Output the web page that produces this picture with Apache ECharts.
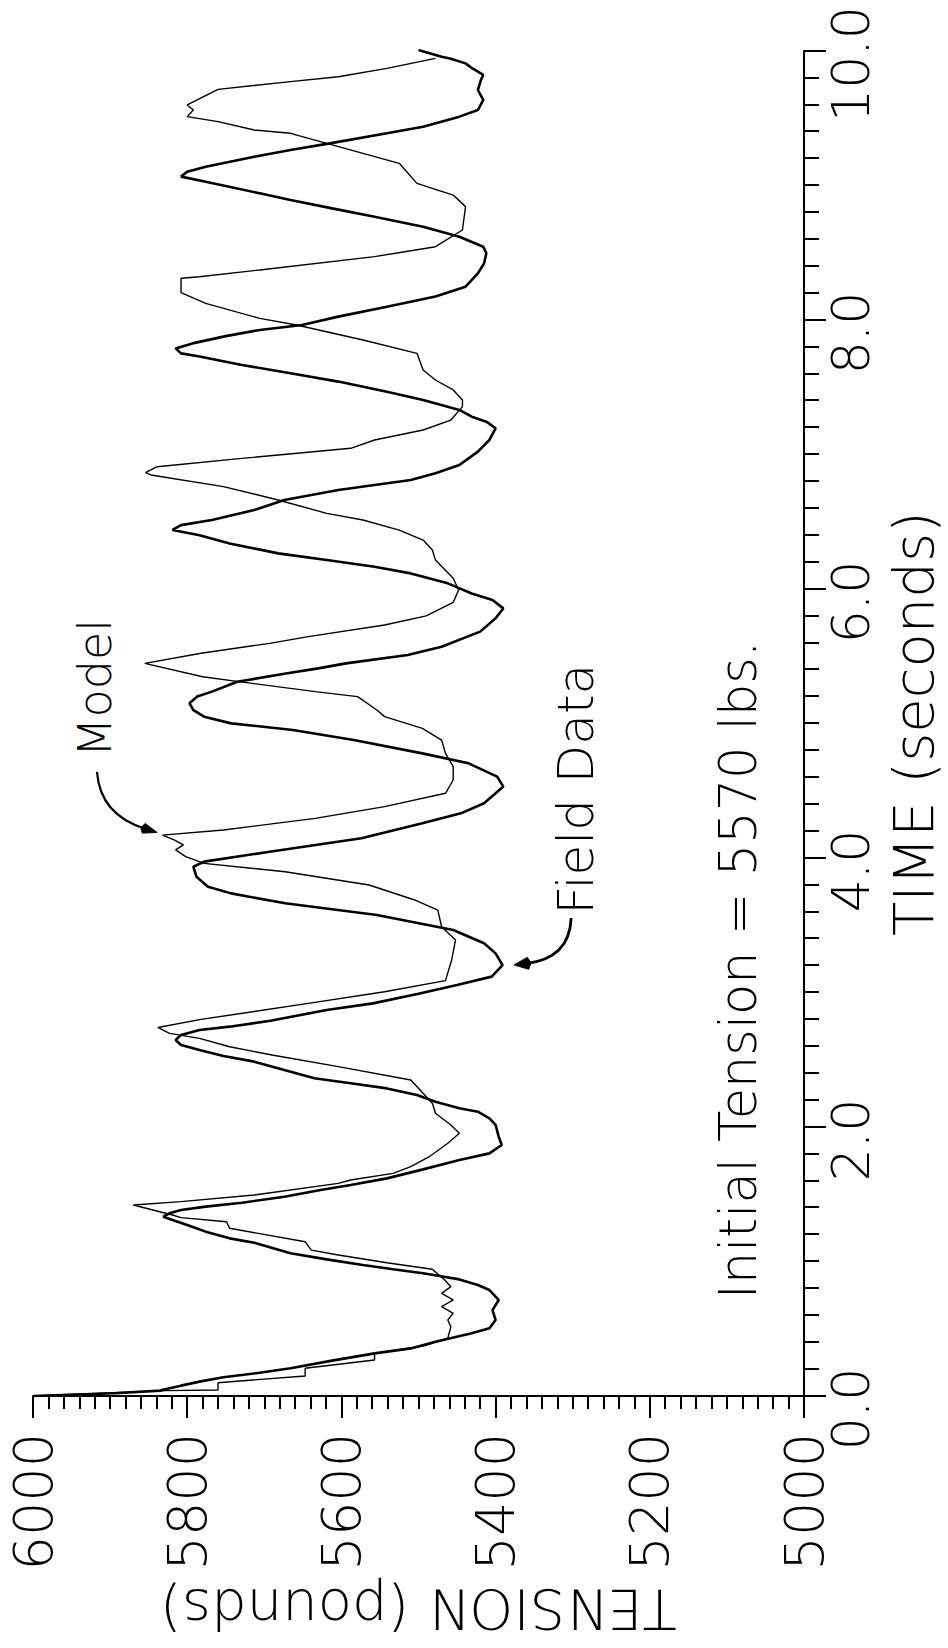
<!DOCTYPE html>
<html><head><meta charset="utf-8">
<script src="https://cdn.jsdelivr.net/npm/echarts@6/dist/echarts.min.js"></script>
<style>
html,body{margin:0;padding:0;background:#fff;width:948px;height:1648px;overflow:hidden;}
#chart{position:absolute;left:0;top:0;width:1648px;height:948px;transform-origin:0 0;transform:translate(0px,1648px) rotate(-90deg);background:#fff;}
</style></head><body><div id="chart"></div>
<script>
// ---- data (time in seconds, tension in pounds) ----
const fieldTime = [0.00,0.02,0.04,0.057,0.077,0.107,0.139,0.173,0.206,0.263,
0.317,0.354,0.404,0.466,0.503,0.565,0.639,0.714,0.788,0.825,
0.867,0.887,0.912,0.942,0.974,1.016,1.061,1.140,1.172,1.222,
1.271,1.309,1.333,1.358,1.383,1.408,1.437,1.482,1.532,1.569,
1.618,1.685,1.755,1.804,1.866,1.928,2.015,2.064,2.114,2.139,
2.188,2.238,2.287,2.325,2.362,2.424,2.486,2.528,2.573,2.610,
2.647,2.684,2.721,2.746,2.790,2.870,2.919,2.990,3.056,3.118,
3.204,3.291,3.366,3.465,3.576,3.663,3.737,3.787,3.861,3.935,
3.973,4.047,4.147,4.258,4.332,4.407,4.481,4.531,4.605,4.704,
4.778,4.877,4.952,5.001,5.051,5.100,5.150,5.200,5.237,5.311,
5.373,5.410,5.447,5.509,5.571,5.683,5.782,5.856,5.918,5.967,
6.042,6.116,6.166,6.215,6.265,6.339,6.400,6.439,6.475,6.513,
6.587,6.662,6.736,6.773,6.810,6.860,6.922,7.021,7.108,7.195,
7.244,7.281,7.331,7.405,7.467,7.542,7.604,7.666,7.728,7.752,
7.789,7.830,7.880,7.926,7.963,8.025,8.099,8.174,8.248,8.347,
8.420,8.496,8.545,8.619,8.694,8.768,8.830,8.892,8.942,9.028,
9.066,9.103,9.140,9.214,9.264,9.313,9.388,9.437,9.512,9.561,
9.636,9.710,9.785,9.822,9.870,9.908,9.943,9.958,10.007];
const fieldTension = [6000,5894,5835,5823,5808,5784,5753,5706,5666,5612,
5557,5510,5478,5431,5408,5400,5404,5396,5408,5423,
5447,5467,5494,5533,5572,5619,5666,5713,5745,5776,
5800,5819,5831,5823,5808,5776,5729,5674,5627,5588,
5541,5494,5447,5408,5392,5396,5400,5408,5423,5447,
5478,5502,5541,5588,5635,5674,5713,5753,5784,5808,
5815,5808,5784,5745,5692,5619,5559,5500,5450,5405,
5391,5400,5415,5455,5554,5673,5743,5773,5788,5792,
5778,5693,5574,5495,5445,5415,5400,5390,5398,5435,
5495,5584,5663,5743,5778,5792,5797,5787,5768,5735,
5670,5630,5594,5514,5470,5420,5400,5390,5404,5431,
5462,5510,5557,5619,5682,5745,5784,5819,5808,5768,
5713,5674,5604,5557,5510,5478,5447,5423,5408,5400,
5412,5431,5447,5494,5541,5604,5666,5729,5784,5808,
5815,5790,5750,5706,5651,5604,5541,5478,5439,5423,
5415,5412,5416,5447,5494,5557,5612,5666,5706,5776,
5808,5800,5776,5713,5666,5615,5541,5494,5447,5423,
5416,5423,5419,5416,5430,5439,5458,5470,5500];

const modelTime = [0.00,0.04,0.045,0.099,0.149,0.206,0.268,0.317,0.372,0.429,
0.515,0.565,0.615,0.664,0.714,0.763,0.813,0.862,0.942,0.991,
1.048,1.085,1.147,1.247,1.296,1.326,1.346,1.420,1.445,1.494,
1.581,1.606,1.655,1.705,1.779,1.879,1.953,2.015,2.102,2.176,
2.349,2.449,2.535,2.597,2.659,2.696,2.740,2.800,2.919,3.006,
3.088,3.242,3.390,3.489,3.613,3.688,3.799,3.898,3.960,4.010,
4.060,4.097,4.134,4.170,4.208,4.295,4.382,4.481,4.580,4.679,
4.778,4.877,4.964,5.051,5.100,5.200,5.237,5.311,5.348,5.447,
5.522,5.596,5.646,5.732,5.800,5.900,5.993,6.080,6.215,6.290,
6.364,6.438,6.513,6.562,6.662,6.761,6.848,6.865,6.909,6.971,
7.046,7.108,7.182,7.256,7.356,7.405,7.480,7.554,7.628,7.752,
7.851,7.963,8.012,8.124,8.203,8.310,8.322,8.372,8.471,8.545,
8.669,8.843,8.929,9.016,9.165,9.239,9.313,9.388,9.413,9.475,
9.512,9.561,9.599,9.715,9.772,9.809,9.871,9.945];
const modelTension = [6000,5831,5760,5760,5647,5647,5557,5557,5494,5462,
5458,5462,5455,5470,5455,5470,5458,5466,5482,5541,
5604,5639,5647,5745,5749,5808,5819,5870,5808,5713,
5604,5588,5533,5510,5486,5462,5447,5458,5478,5482,
5510,5604,5690,5745,5784,5823,5838,5782,5643,5544,
5465,5457,5452,5470,5475,5505,5564,5673,5778,5802,
5815,5805,5817,5832,5753,5634,5544,5465,5455,5455,
5465,5470,5495,5544,5554,5579,5634,5733,5780,5855,
5782,5693,5643,5544,5490,5455,5448,5455,5478,5482,
5494,5525,5572,5619,5682,5753,5847,5854,5839,5729,
5588,5557,5494,5458,5443,5443,5455,5478,5494,5502,
5572,5658,5706,5776,5808,5808,5784,5706,5557,5478,
5443,5439,5455,5502,5525,5572,5619,5666,5713,5760,
5800,5792,5800,5760,5666,5604,5541,5478];

const timeTickLabels = ['0.0','2.0','4.0','6.0','8.0','10.0'];
const tensionTickLabels = ['5000','5200','5400','5600','5800','6000'];

// annotation anchors in data units [time, tension]
const modelLabelAt = [4.75, 5919];
const fieldLabelAt = [3.58, 5296];
const noteLabelAt = [0.72, 5085];
const modelArrow = {start:[4.64,5917], ctrl:[4.32,5913], end:[4.19,5839]};
const fieldArrow = {start:[3.554,5302], ctrl:[3.253,5304], end:[3.205,5376]};

const zip = (a, b) => a.map((v, i) => [v, b[i]]);

const chart = echarts.init(document.getElementById('chart'), null, {renderer:'svg', width:1648, height:948});
const SANS = '"DejaVu Sans", sans-serif';
const W = 200;

chart.setOption({
  animation: false,
  backgroundColor: '#fff',
  grid: {left: 252, right: 51, top: 33, bottom: 144, containLabel: false},
  xAxis: {
    type: 'value', min: 0, max: 10, interval: 2,
    name: 'TIME (seconds)', nameLocation: 'middle', nameGap: 81,
    nameTextStyle: {fontFamily: SANS, fontWeight: W, fontSize: 56, color: '#000'},
    axisLine: {show: true, onZero: false, lineStyle: {color: '#000', width: 2}},
    axisTick: {show: true, length: 22, lineStyle: {color: '#000', width: 2}},
    minorTick: {show: true, splitNumber: 10, length: 15, lineStyle: {color: '#000', width: 2}},
    splitLine: {show: false}, minorSplitLine: {show: false},
    axisLabel: {margin: 21, fontFamily: SANS, fontWeight: W, fontSize: 52, color: '#000', padding: [0, 26, 0, 0],
      formatter: v => timeTickLabels[Math.round(v / 2)]}
  },
  yAxis: {
    type: 'value', min: 5000, max: 6000, interval: 200,
    name: 'TENSION (pounds)', nameLocation: 'middle', nameRotate: 90, nameGap: 183,
    nameTextStyle: {fontFamily: SANS, fontWeight: W, fontSize: 56, color: '#000'},
    axisLine: {show: true, onZero: false, lineStyle: {color: '#000', width: 2}},
    axisTick: {show: true, length: 22, lineStyle: {color: '#000', width: 2}},
    minorTick: {show: true, splitNumber: 10, length: 13, lineStyle: {color: '#000', width: 2}},
    splitLine: {show: false}, minorSplitLine: {show: false},
    axisLabel: {margin: 37, fontFamily: SANS, fontWeight: W, fontSize: 54, color: '#000',
      formatter: v => tensionTickLabels[Math.round((v - 5000) / 200)]}
  },
  series: [
    {name: 'Model', type: 'line', showSymbol: false, symbol: 'none',
     data: zip(modelTime, modelTension), lineStyle: {color: '#000', width: 1.4}},
    {name: 'Field Data', type: 'line', showSymbol: false, symbol: 'none',
     data: zip(fieldTime, fieldTension), lineStyle: {color: '#000', width: 2.6}}
  ]
});

function px(p) { return chart.convertToPixel({xAxisIndex: 0, yAxisIndex: 0}, p); }
function arrow(a, width, headLen, headW) {
  const s = px(a.start), c = px(a.ctrl), e = px(a.end);
  let dx = e[0] - c[0], dy = e[1] - c[1];
  const L = Math.hypot(dx, dy); dx /= L; dy /= L;
  const bx = e[0] - dx * headLen, by = e[1] - dy * headLen;
  const nx = -dy, ny = dx;
  return [
    {type: 'bezierCurve', shape: {x1: s[0], y1: s[1], x2: bx + dx * 2, y2: by + dy * 2, cpx1: c[0], cpy1: c[1]},
     style: {stroke: '#000', lineWidth: width, fill: null}, z: 10},
    {type: 'polygon', shape: {points: [[e[0], e[1]], [bx + nx * headW, by + ny * headW], [bx - dx * 3, by - dy * 3], [bx - nx * headW, by - ny * headW]]},
     style: {fill: '#000', stroke: '#000', lineWidth: 1}, z: 10}
  ];
}
function label(text, at, size, align) {
  const p = px(at);
  return {type: 'text', x: p[0], y: p[1], z: 10,
    style: {text: text, fontFamily: SANS, fontWeight: W, fontSize: size, fill: '#000',
      textAlign: align, textVerticalAlign: 'middle', align: align, verticalAlign: 'middle'}};
}
chart.setOption({
  graphic: [
    label('Model', modelLabelAt, 46, 'left'),
    label('Field Data', fieldLabelAt, 50, 'left'),
    label('Initial Tension = 5570 lbs.', noteLabelAt, 51, 'left'),
    ...arrow(modelArrow, 2.2, 14, 5),
    ...arrow(fieldArrow, 2.8, 14, 6)
  ]
});
</script></body></html>
